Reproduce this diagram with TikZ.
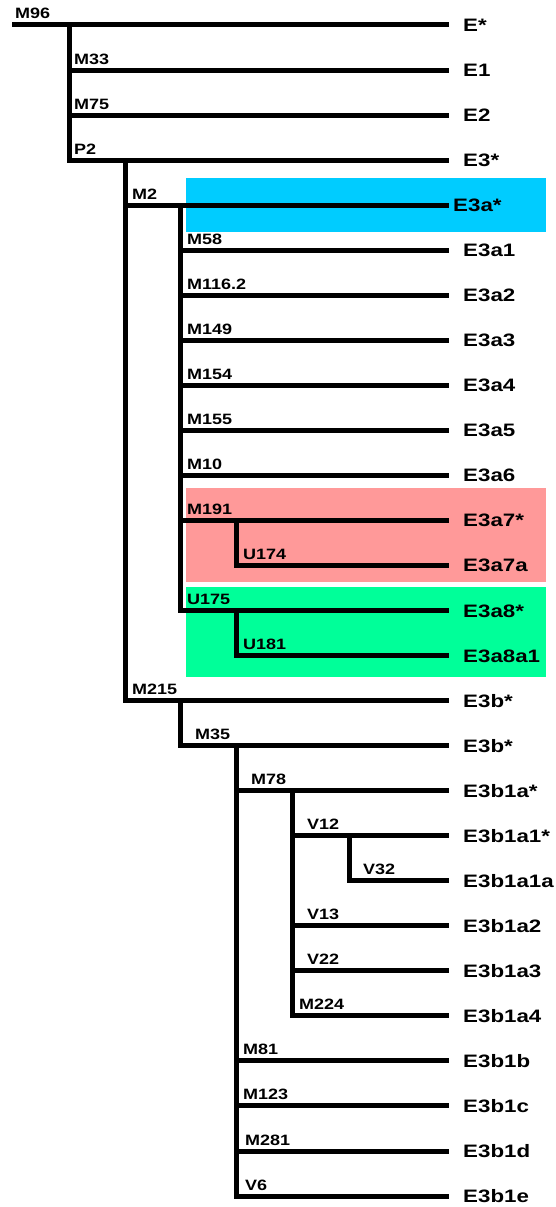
\documentclass[tikz,border=0pt]{standalone}
\usepackage{fontspec}
\setmainfont{Liberation Sans}
\definecolor{hlblue}{HTML}{00CCFF}
\definecolor{hlpink}{HTML}{FF9999}
\definecolor{hlgreen}{HTML}{00FF99}
\begin{document}
\begin{tikzpicture}[x=1pt,y=-1pt,
  branch/.style={line width=5pt,line cap=rect},
  mut/.style={anchor=base west,inner sep=0pt,font=\fontsize{15}{15}\selectfont\bfseries},
  leaf/.style={anchor=base west,inner sep=0pt,font=\fontsize{18}{18}\selectfont\bfseries}]
\useasboundingbox (0,0) rectangle (555,1207);
% highlight boxes
\fill[hlblue] (186,178) rectangle (546,232);
\fill[hlpink] (186,488) rectangle (546,582);
\fill[hlgreen] (186,587) rectangle (546,677);
% leaf line ends and labels
\foreach \i/\t in {0/E*,1/E1,2/E2,3/E3*,5/E3a1,6/E3a2,7/E3a3,8/E3a4,9/E3a5,10/E3a6,11/E3a7*,12/E3a7a,13/E3a8*,14/E3a8a1,15/E3b*,16/E3b*,17/E3b1a*,18/E3b1a1*,19/E3b1a1a,20/E3b1a2,21/E3b1a3,22/E3b1a4,23/E3b1b,24/E3b1c,25/E3b1d,26/E3b1e}{
  \node[leaf] (L\i) at (463,{25+45.04*\i+6.5}) {\scalebox{1.24}[1]{\t}};
}
\node[leaf] (L4) at (453,{25+45.04*4+6.5}) {\scalebox{1.24}[1]{E3a*}};
\foreach \i in {0,...,26}{
  \coordinate (e\i) at (446,{25+45.04*\i});
}
% branch starts
\foreach \i/\x in {0/14.5,1/69,2/69,3/69,4/125,5/180,6/180,7/180,8/180,9/180,10/180,11/180,12/236,13/180,14/236,15/125,16/180,17/236,18/292,19/349,20/292,21/292,22/292,23/236,24/236,25/236,26/236}{
  \coordinate (s\i) at (\x,{25+45.04*\i});
  \draw[branch] (s\i) -- (e\i);
}
% internal nodes
\coordinate (M96) at (69,25);
\coordinate (P2) at (125,{25+45.04*3});
\coordinate (M2) at (180,{25+45.04*4});
\coordinate (M191) at (236,{25+45.04*11});
\coordinate (U175) at (236,{25+45.04*13});
\coordinate (M215) at (180,{25+45.04*15});
\coordinate (M35) at (236,{25+45.04*16});
\coordinate (M78) at (292,{25+45.04*17});
\coordinate (V12) at (349,{25+45.04*18});
\draw[branch] (M96) -- (s3);
\draw[branch] (P2) -- (s15);
\draw[branch] (M2) -- (s13);
\draw[branch] (M191) -- (s12);
\draw[branch] (U175) -- (s14);
\draw[branch] (M215) -- (s16);
\draw[branch] (M35) -- (s26);
\draw[branch] (M78) -- (s22);
\draw[branch] (V12) -- (s19);
% mutation labels
\foreach \i/\x/\t in {0/15/M96,1/74/M33,2/74/M75,3/74/P2,4/132/M2,5/187/M58,6/187/M116.2,7/187/M149,8/187/M154,9/187/M155,10/187/M10,11/187/M191,12/243/U174,13/187/U175,14/243/U181,15/132/M215,16/195/M35,17/251/M78,18/307/V12,19/363/V32,20/307/V13,21/307/V22,22/299/M224,23/243/M81,24/243/M123,25/245/M281,26/245/V6}{
  \node[mut] (m\i) at (\x,{25+45.04*\i-6}) {\scalebox{1.2}[1]{\t}};
}
\end{tikzpicture}
\end{document}
